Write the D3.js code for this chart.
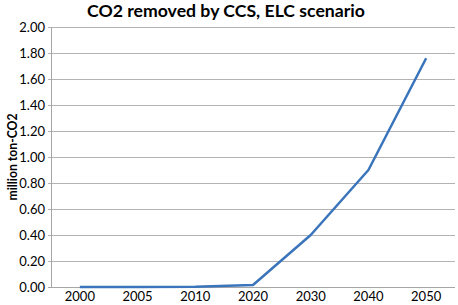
<!DOCTYPE html>
<html><head><meta charset="utf-8">
<script src="https://cdn.jsdelivr.net/npm/d3@7"></script>
<style>body{margin:0;background:#fff}svg{display:block}</style>
</head><body>
<svg id="c" width="458" height="305"></svg>
<script>
const categories = ["2000","2005","2010","2020","2030","2040","2050"];
const values = [0, 0, 0.002, 0.015, 0.40, 0.90, 1.76];
const yTicks = [0,0.2,0.4,0.6,0.8,1.0,1.2,1.4,1.6,1.8,2.0];
const title = "CO2 removed by CCS, ELC scenario";
const yLabel = "million ton-CO2";

const svg = d3.select("#c");
const m = {l:51, r:3, t:27, b:18};
const W = 458, H = 305;
const x = d3.scaleBand().domain(categories).range([m.l, W-m.r]);
const y = d3.scaleLinear().domain([0,2]).range([H-m.b, m.t]);
const font = "Lato, 'Open Sans', sans-serif";

// gridlines
svg.append("g").selectAll("line").data(yTicks.slice(1)).join("line")
  .attr("x1", m.l-3).attr("x2", W-m.r)
  .attr("y1", d=>Math.round(y(d))+0.5).attr("y2", d=>Math.round(y(d))+0.5)
  .attr("stroke","#b3b3b3").attr("stroke-width",1);

// axes lines
svg.append("line").attr("x1",m.l+0.5).attr("x2",m.l+0.5)
  .attr("y1",y(2)).attr("y2",Math.round(y(0))+0.5).attr("stroke","#a6a6a6");
svg.append("line").attr("x1",m.l-3).attr("x2",W-m.r)
  .attr("y1",Math.round(y(0))+0.5).attr("y2",Math.round(y(0))+0.5).attr("stroke","#a6a6a6");

// y tick labels
svg.append("g").selectAll("text").data(yTicks).join("text")
  .attr("x", 45).attr("y", d=>y(d)).attr("dy","0.35em")
  .attr("text-anchor","end").attr("font-family",font).attr("font-size",13)
  .attr("fill","#000").text(d=>d.toFixed(2));

// x tick labels
svg.append("g").selectAll("text").data(categories).join("text")
  .attr("x", d=>x(d)+x.bandwidth()/2).attr("y", 301)
  .attr("text-anchor","middle").attr("font-family",font).attr("font-size",13)
  .attr("fill","#000").text(d=>d);

// line
const line = d3.line().x((d,i)=>x(categories[i])+x.bandwidth()/2).y(d=>y(d));
svg.append("path").datum(values).attr("d",line).attr("fill","none")
  .attr("stroke","#3a75bb").attr("stroke-width",2.5).attr("stroke-linejoin","round");

// title
svg.append("text").attr("x",87).attr("y",17)
  .attr("font-family",font).attr("font-weight","bold").attr("font-size",17.5)
  .attr("textLength",278).attr("lengthAdjust","spacingAndGlyphs")
  .attr("fill","#000").text(title);

// y label
svg.append("text").attr("transform","translate(17,157) rotate(-90)")
  .attr("text-anchor","middle").attr("font-family",font).attr("font-weight","bold")
  .attr("font-size",12.5).attr("textLength",87).attr("lengthAdjust","spacingAndGlyphs")
  .attr("fill","#000").text(yLabel);
</script>
</body></html>
